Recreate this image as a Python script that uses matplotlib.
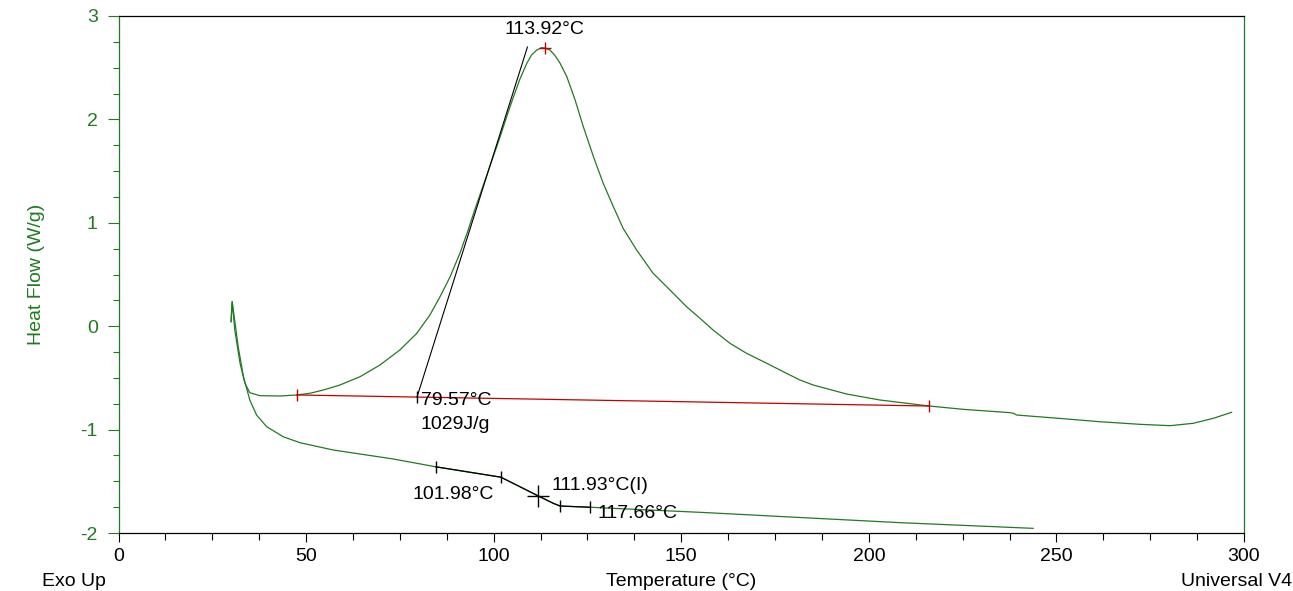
#! /usr/bin/env python
'''
    DSC thermogram: heat flow vs temperature with peak / Tg analysis
'''

import matplotlib
matplotlib.use('Agg')
import matplotlib.pyplot as plt
from matplotlib.ticker import MultipleLocator

GREEN = '#217a21'
RED = '#c40000'

# first run (exotherm peak)
run1_temp = [30.0, 30.3, 31.0, 32.4, 33.7, 35.0, 37.7, 43.0, 47.5,
             51.0, 54.6, 59.0, 64.4, 69.7, 75.0, 79.5, 83.0, 85.7, 88.4,
             91.0, 93.2, 95.0, 97.2, 99.5, 101.7, 103.5, 105.2, 107.0, 108.8,
             110.1, 111.5, 112.8, 113.7, 115.0, 116.3, 117.7, 119.5, 121.7,
             123.9, 126.6, 129.2, 131.9, 134.5, 138.1, 142.5, 147.0, 151.4,
             155.0, 158.5, 163.0, 167.4, 172.8, 177.2, 181.6, 185.2, 194.1,
             203.0, 216.1, 225.2, 237.6, 238.5, 239.4, 252.7, 261.6, 272.3,
             280.3, 286.5, 291.8, 296.7]
run1_hf = [0.044, 0.237, -0.037, -0.359, -0.552, -0.643, -0.672, -0.675,
           -0.665, -0.649, -0.617, -0.569, -0.488, -0.375, -0.230, -0.069,
           0.108, 0.285, 0.479, 0.705, 0.93, 1.13, 1.36, 1.60, 1.83, 2.03,
           2.21, 2.39, 2.54, 2.623, 2.671, 2.694, 2.690, 2.671, 2.62, 2.543,
           2.413, 2.188, 1.929, 1.639, 1.382, 1.156, 0.947, 0.737, 0.512,
           0.350, 0.189, 0.076, -0.037, -0.166, -0.262, -0.359, -0.44, -0.520,
           -0.569, -0.656, -0.714, -0.772, -0.804, -0.836, -0.842, -0.859,
           -0.897, -0.924, -0.949, -0.962, -0.939, -0.891, -0.833]

# second run (glass transition)
run2_temp = [30.0, 30.3, 31.9, 33.3, 35.0, 36.8, 39.5, 43.9, 48.4, 57.2, 66.2,
             73.2, 84.6, 101.9, 106.1, 111.9, 115.9, 117.7, 125.7, 141.7,
             155.0, 208.3, 243.8]
run2_hf = [0.044, 0.237, -0.198, -0.488, -0.714, -0.859, -0.972, -1.069,
           -1.127, -1.197, -1.246, -1.284, -1.36, -1.46, -1.536, -1.642,
           -1.713, -1.739, -1.751, -1.778, -1.80, -1.90, -1.955]

# peak integration
baseline_temp = [47.5, 216.1]
baseline_hf = [-0.665, -0.772]
tangent_temp = [79.57, 109.0]
tangent_hf = [-0.685, 2.70]
peak_temp, peak_hf = 113.7, 2.69

# Tg analysis
tg_ticks_temp = [84.6, 101.9, 117.7, 125.7]
tg_ticks_hf = [-1.36, -1.46, -1.739, -1.751]
tg_inflect_temp, tg_inflect_hf = 111.9, -1.642

plt.rcParams['font.family'] = ['Liberation Sans', 'DejaVu Sans']
plt.rcParams['font.size'] = 14
plt.rcParams['axes.unicode_minus'] = False

fig = plt.figure(figsize=(12.93, 5.91), dpi=100)
ax = fig.add_axes([118.5 / 1293, 58 / 591, 1125.5 / 1293, 517 / 591])

ax.plot(run1_temp, run1_hf, color=GREEN, lw=0.9)
ax.plot(run2_temp, run2_hf, color=GREEN, lw=0.9)

# integration baseline + peak
ax.plot(baseline_temp, baseline_hf, color=RED, lw=0.9)
ax.plot(baseline_temp, baseline_hf, ls='none', marker='|', ms=9,
        mew=1, color=RED)
ax.plot([peak_temp], [peak_hf], ls='none', marker='+', ms=9, mew=1, color=RED)
ax.plot(tangent_temp, tangent_hf, color='black', lw=0.8)
ax.plot(tangent_temp[:1], tangent_hf[:1], ls='none', marker='|', ms=9,
        mew=1, color='black')

# glass transition overlay
i0 = run2_temp.index(84.6)
i1 = run2_temp.index(125.7) + 1
ax.plot(run2_temp[i0:i1], run2_hf[i0:i1], color='black', lw=0.9)
ax.plot(tg_ticks_temp, tg_ticks_hf, ls='none', marker='|', ms=9, mew=1,
        color='black')
ax.plot([tg_inflect_temp], [tg_inflect_hf], ls='none', marker='+', ms=16,
        mew=1, color='black')

# annotations
ax.text(113.65, 2.87, '113.92°C', ha='center', va='center')
ax.text(80.6, -0.719, '79.57°C', ha='left', va='center')
ax.text(80.6, -0.951, '1029J/g', ha='left', va='center')
ax.text(89.3, -1.623, '101.98°C', ha='center', va='center')
ax.text(115.5, -1.545, '111.93°C(I)', ha='left', va='center')
ax.text(127.8, -1.811, '117.66°C', ha='left', va='center')

ax.set_xlim(0, 300)
ax.set_ylim(-2, 3)
ax.xaxis.set_major_locator(MultipleLocator(50))
ax.xaxis.set_minor_locator(MultipleLocator(12.5))
ax.yaxis.set_major_locator(MultipleLocator(1))
ax.yaxis.set_minor_locator(MultipleLocator(0.25))

ax.tick_params(axis='x', which='major', direction='out', length=6.5,
               width=0.8, pad=4, colors='black')
ax.tick_params(axis='x', which='minor', direction='out', length=5,
               width=0.8)
ax.tick_params(axis='y', which='major', direction='out', length=8,
               width=0.8, pad=7, colors=GREEN)
ax.tick_params(axis='y', which='minor', direction='out', length=4.5,
               width=0.8, colors=GREEN)

ax.spines['left'].set_color(GREEN)
ax.spines['right'].set_color(GREEN)
ax.spines['top'].set_color('black')
ax.spines['bottom'].set_color('black')
for s in ax.spines.values():
    s.set_linewidth(0.9)

ax.set_ylabel('Heat Flow (W/g)', color=GREEN)
ax.yaxis.set_label_coords(-0.0653, 0.5)
ax.set_xlabel('Temperature (°C)')
ax.xaxis.set_label_coords(0.5, -0.078)

fig.text(42 / 1293, 10 / 591, 'Exo Up', ha='left', va='center')
fig.text(1181 / 1293, 10 / 591, 'Universal V4', ha='left', va='center')

fig.savefig('out.png', dpi=100)
plt.close(fig)
